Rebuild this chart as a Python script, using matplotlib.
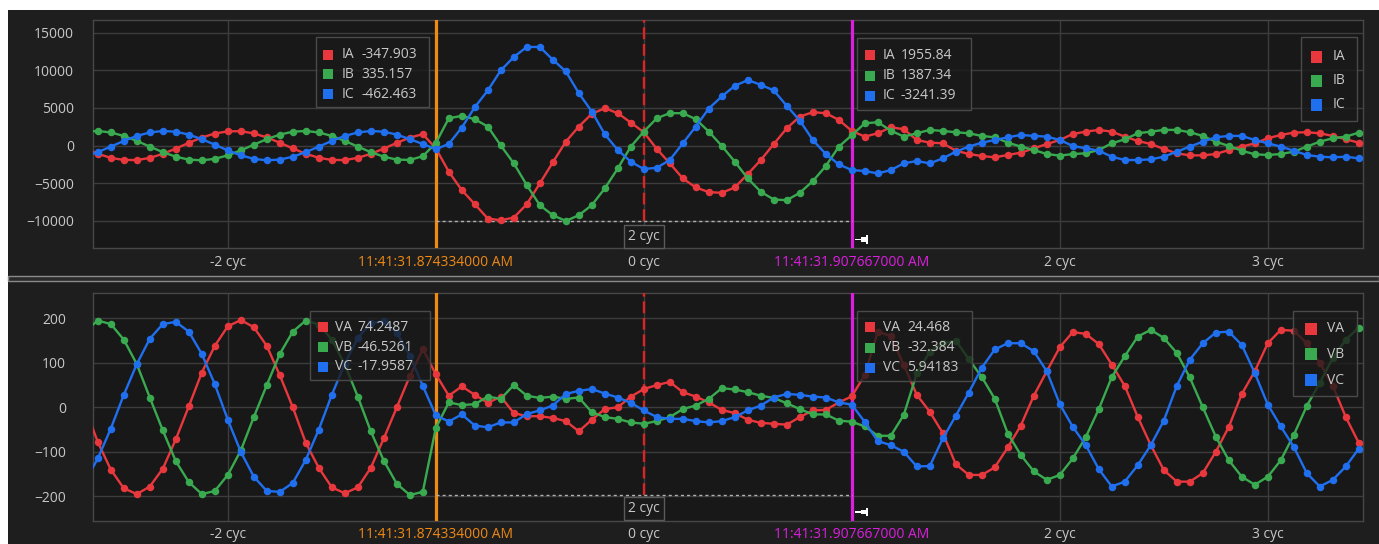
import numpy as np
import matplotlib
matplotlib.use("Agg")
import matplotlib.pyplot as plt
import matplotlib.transforms as mtransforms
from matplotlib.patches import Rectangle

plt.rcParams['font.family'] = ['Open Sans', 'DejaVu Sans']
plt.rcParams['font.size'] = 10

# ---------------- data ----------------
samples_per_cycle = 16
first_sample = -43
n_samples = 99
t = (np.arange(n_samples) + first_sample) / samples_per_cycle   # time in cycles

IA = [-380, -1080, -1620, -1900, -1910, -1630, -1090, -390, 370, 1080, 1610, 1900, 1920, 1630, 1090, 390,
      -370, -1080, -1610, -1900, -1910, -1620, -1090, -390, 370, 1070, 1520,
      -347.903,
      -3460, -5900, -7770, -9680, -9900, -9550, -7770, -5020, -2220, 530, 2530, 4220, 4970, 4310, 3060,
      1780,
      -440, -2350, -4350, -5550, -6170, -6260, -5550, -3770, -1910, 220, 2310, 3860, 4440, 4310, 3420,
      1955.84,
      1200, 1640, 2440, 2180, 750, 400, 310, -670, -1110, -1380, -1550, -1240, -930, -360, 220, 750, 1550,
      1860, 2090, 1860, 1200, 620, 220, -440, -1020, -1290, -1290, -1110, -580, -130, 310, 980, 1420, 1730,
      1780, 1640, 1290, 840, 400]
IB = [1850, 1950, 1750, 1290, 630, -130, -860, -1470, -1850, -1950, -1750, -1290, -630, 130, 860, 1470,
      1850, 1950, 1750, 1290, 630, -130, -860, -1470, -1850, -1900, -1400,
      335.157,
      3640, 3950, 3510, 2530, 20, -2350, -5240, -7900, -9240, -9990, -9240, -7900, -5680, -3020, -130,
      1860,
      3640, 4310, 4310, 3510, 1860, -30, -2130, -4350, -6130, -7150, -7240, -6260, -4710, -2710, -130,
      1387.34,
      2970, 3110, 2000, 1200, 1640, 2090, 1950, 1780, 1640, 1290, 1110, 400, -130, -580, -1110, -1330, -1110,
      -1020, -580, 310, 840, 1640, 1860, 2090, 2090, 1780, 1290, 530, -40, -670, -1150, -1240, -1110, -800,
      -130, 530, 980, 1200, 1730]
IC = [-1470, -860, -130, 630, 1290, 1750, 1950, 1850, 1470, 860, 130, -630, -1290, -1750, -1950, -1850,
      -1470, -860, -130, 630, 1290, 1750, 1950, 1850, 1470, 860, 220,
      -462.463,
      222, 2400, 5100, 7330, 9990, 11770, 13100, 13100, 11410, 9860, 6970, 4530, 1510, -580, -2130,
      -3110,
      -2930, -1910, 310, 2530, 4930, 6530, 7950, 8700, 8080, 7330, 5280, 3330, 750, -1110, -2490,
      -3241.39,
      -3370, -3690, -3240, -2350, -2040, -2350, -1690, -800, -130, 400, 750, 1110, 1420, 1290, 1200, 750, -40,
      -360, -670, -1470, -1910, -1910, -1820, -1470, -800, -130, 530, 1110, 1290, 1290, 750, 310, -130, -670,
      -1240, -1470, -1550, -1470, -1690]

VA = [0, -78, -140, -182, -195, -178, -138, -72, 2, 78, 138, 182, 196, 180, 138, 72, 0, -80, -136, -180,
      -193, -180, -136, -70, 0, 70, 131,
      74.2487,
      26, 47, 28, 10, 24, -13, -20, -20, -24, -31, -54, -28, -4, 0, 24,
      41,
      50, 57, 34, 24, 11, -6, -13, -28, -35, -37, -39, -22, -7, -6, 11,
      24.468,
      73, 170, 160, 95, 28, -10, -58, -128, -152, -152, -135, -90, -41, 26, 81, 135, 169, 165, 142, 96, 48,
      -22, -85, -141, -167, -167, -148, -100, -44, 30, 81, 144, 174, 172, 144, 100, 48, -22, -80]
VB = [170, 195, 187, 152, 97, 22, -52, -121, -168, -195, -188, -152, -97, -22, 50, 120, 170, 195, 186, 152,
      96, 24, -54, -120, -172, -197, -190,
      -46.5261,
      11, 5, 7, 24, 19, 50, 26, 21, 24, 19, 22, -11, -22, -26, -34,
      -37,
      -31, -22, -4, 4, 19, 43, 40, 34, 26, 21, 9, -4, -16, -16, -30,
      -32.384,
      -43, -64, -64, -17, 76, 125, 144, 150, 108, 68, 19, -59, -107, -144, -163, -152, -115, -67, -4, 68, 115,
      159, 174, 156, 122, 67, 0, -66, -119, -156, -174, -156, -119, -62, 3, 55, 111, 152, 179]
VC = [-168, -115, -48, 28, 97, 154, 187, 192, 170, 120, 52, -28, -100, -156, -188, -190, -170, -118, -50, 28,
      98, 156, 189, 193, 168, 116, 48,
      -17.9587,
      -32, -16, -41, -45, -34, -34, -15, -7, 4, 30, 37, 41, 31, 22, 10,
      -7,
      -22, -26, -26, -31, -34, -31, -22, -7, 4, 22, 30, 28, 24, 22, 11,
      5.94183,
      -33, -76, -85, -100, -133, -132, -70, -19, 33, 89, 130, 144, 144, 126, 81, 7, -44, -85, -139, -178, -167,
      -130, -85, -30, 48, 107, 144, 168, 170, 140, 77, 6, -43, -89, -148, -178, -163, -133, -93]

current_names = ["IA", "IB", "IC"]
voltage_names = ["VA", "VB", "VC"]
cursor_a, cursor_b = -1.0, 1.0
cursor_a_label = "11:41:31.874334000 AM"
cursor_b_label = "11:41:31.907667000 AM"
x_ticks = [-2, -1, 0, 1, 2, 3]
x_labels = ["-2 cyc", cursor_a_label, "0 cyc", cursor_b_label, "2 cyc", "3 cyc"]
I_ticks = [-10000, -5000, 0, 5000, 10000, 15000]
V_ticks = [-200, -100, 0, 100, 200]

# ---------------- style ----------------
W, H, DPI = 1379, 544, 100
PANEL = '#1e1e1e'; PLOT_BG = '#181818'; GRID = '#3c3c3c'; TXT = '#c8c8c8'
RED = '#e8383d'; GREEN = '#3aaa50'; BLUE = '#1f6fef'
ORANGE = '#ef8a12'; MAGENTA = '#dc1ee0'
COLORS = [RED, GREEN, BLUE]

fig = plt.figure(figsize=(W / DPI, H / DPI), dpi=DPI, facecolor='white')


def fx(x):
    return x / W


def fy(y):
    return 1 - y / H


fig.add_artist(Rectangle((fx(8), 0), 1 - fx(8), fy(10), transform=fig.transFigure,
                         fc=PANEL, ec='none', zorder=-10))
# separator bar between the two panes
fig.add_artist(Rectangle((fx(8), fy(281)), 1 - fx(8), 5 / H, transform=fig.transFigure,
                         fc='#2a2a2a', ec='#8a8a8a', lw=1, zorder=-5))

XL, XR = 93, 1363
xlim = ((XL - 643.8) / 208.0, (XR - 643.8) / 208.0)


def make_axes(top, bottom, ylim, yticks, ypad, series):
    ax = fig.add_axes([fx(XL), fy(bottom), (XR - XL) / W, (bottom - top) / H])
    ax.set_facecolor(PLOT_BG)
    for s in ax.spines.values():
        s.set_color('#474747')
        s.set_linewidth(1)
    ax.set_xlim(*xlim)
    ax.set_ylim(*ylim)
    ax.set_yticks(yticks)
    ax.set_xticks(x_ticks)
    ax.set_xticklabels(x_labels)
    ax.grid(True, color=GRID, lw=1)
    ax.set_axisbelow(True)
    ax.tick_params(axis='both', length=0, colors=TXT, labelsize=10)
    ax.tick_params(axis='y', pad=ypad)
    ax.tick_params(axis='x', pad=4.5)
    lbls = ax.get_xticklabels()
    lbls[1].set_color(ORANGE)
    lbls[3].set_color(MAGENTA)

    for vals, c in zip(series, COLORS):
        ax.plot(t, vals, color=c, lw=1.7, marker='o', ms=5.4, mew=0, zorder=4)

    ax.axvline(cursor_a, color=ORANGE, lw=2.3, zorder=3)
    ax.axvline(cursor_b, color=MAGENTA, lw=2.3, zorder=3)
    level = min(min(s) for s in series)
    ax.vlines(0, level, ylim[1], colors='#dc2424', lw=1.7, linestyles=(0, (5, 2)), zorder=3)
    ax.hlines(level, cursor_a, cursor_b, colors='#b0b0b0', lw=1, linestyles=(0, (2.2, 2.2)), zorder=3)
    trans = mtransforms.blended_transform_factory(ax.transData, ax.transAxes)
    ax.text((cursor_a + cursor_b) / 2, 0.052, f"{cursor_b - cursor_a:g} cyc", transform=trans,
            ha='center', va='center', color=TXT, fontsize=10, zorder=6,
            bbox=dict(boxstyle='square,pad=0.28', fc='#1a1a1a', ec='#5a5a5a', lw=1))
    return ax


ax1 = make_axes(20, 248.3, (-13627, 16680), I_ticks, 13.7, [IA, IB, IC])
ax2 = make_axes(292.7, 520.7, (-254.8, 257.5), V_ticks, 19.4, [VA, VB, VC])


def box(x0, y0, x1, y1):
    fig.add_artist(Rectangle((fx(x0), fy(y1)), (x1 - x0) / W, (y1 - y0) / H, transform=fig.transFigure,
                             fc=(0.1, 0.1, 0.1, 0.78), ec='#4a4a4a', lw=1, zorder=20))


def rows(names, values, sq_x, sq, name_x, val_x, ys):
    for i, (nm, c, yy) in enumerate(zip(names, COLORS, ys)):
        fig.add_artist(Rectangle((fx(sq_x), fy(yy + sq / 2)), sq / W, sq / H, transform=fig.transFigure,
                                 fc=c, ec='none', zorder=21))
        fig.text(fx(name_x), fy(yy), nm, color=TXT, fontsize=10, ha='left', va='center', zorder=22)
        if values is not None:
            fig.text(fx(val_x), fy(yy), f"{values[i]:g}", color=TXT, fontsize=10, ha='left',
                     va='center', zorder=22)


ia = int(np.argmin(np.abs(t - cursor_a)))
ib = int(np.argmin(np.abs(t - cursor_b)))

# top pane readouts and legend
box(316, 37, 429, 107)
rows(current_names, [IA[ia], IB[ia], IC[ia]], 323.3, 10, 341.7, 361, [55, 74.3, 94])
box(857.4, 38, 970.8, 109.6)
rows(current_names, [IA[ib], IB[ib], IC[ib]], 865, 10, 882.7, 900.6, [55.3, 75.6, 95.8])
box(1301, 37, 1357, 121)
rows(current_names, None, 1310.7, 11.5, 1333, None, [57, 81, 105])

# bottom pane readouts and legend
box(310, 310.7, 430, 380)
rows(voltage_names, [VA[ia], VB[ia], VC[ia]], 318.3, 10, 335, 357, [327.3, 347.3, 366.7])
box(857.4, 311, 971.5, 381)
rows(voltage_names, [VA[ib], VB[ib], VC[ib]], 865, 10, 882.7, 907, [327.4, 347.6, 367.8])
box(1293, 311, 1357, 395.5)
rows(voltage_names, None, 1305, 12, 1327.4, None, [329, 354, 380])


# pin icons next to the second cursor
def pin(yc):
    fig.add_artist(Rectangle((fx(855), fy(yc + 0.7)), 6 / W, 1.4 / H, transform=fig.transFigure,
                             fc='white', ec='none', zorder=21))
    fig.add_artist(Rectangle((fx(860.5), fy(yc + 2.3)), 5.5 / W, 4.6 / H, transform=fig.transFigure,
                             fc='white', ec='none', zorder=21))
    fig.add_artist(Rectangle((fx(866), fy(yc + 4.2)), 2.3 / W, 8.4 / H, transform=fig.transFigure,
                             fc='white', ec='none', zorder=21))


pin(239.5)
pin(512)

fig.savefig('out.png', dpi=DPI, facecolor='white')
